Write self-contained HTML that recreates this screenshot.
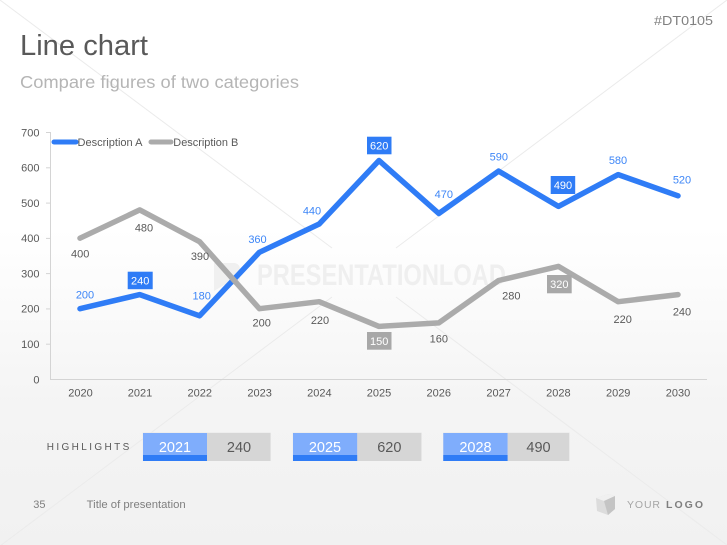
<!DOCTYPE html>
<html><head><meta charset="utf-8"><style>
html,body{margin:0;padding:0;width:727px;height:545px;overflow:hidden;background:#fff}
svg{display:block}
text{font-family:"Liberation Sans",sans-serif}
</style></head><body>
<svg width="727" height="545" viewBox="0 0 727 545" xmlns="http://www.w3.org/2000/svg">
<defs>
<linearGradient id="bg" x1="0" y1="0" x2="0" y2="1">
<stop offset="0" stop-color="#ffffff"/>
<stop offset="0.42" stop-color="#ffffff"/>
<stop offset="0.75" stop-color="#f4f4f4"/>
<stop offset="1" stop-color="#f1f1f1"/>
</linearGradient>
</defs>
<rect width="727" height="545" fill="url(#bg)"/>
<!-- watermark X lines -->
<g stroke="#ebebeb" stroke-width="1">
<line x1="0" y1="0" x2="332" y2="248"/>
<line x1="727" y1="0" x2="396" y2="248"/>
<line x1="332" y1="297" x2="0" y2="546"/>
<line x1="396" y1="297" x2="727" y2="545"/>
</g>
<!-- watermark logo -->
<path d="M214,263 h20 a6,6 0 0 1 6,6 v10 a6,6 0 0 1 -6,6 h-10 l-10,6 z" fill="#f0f0f0"/>
<text x="257" y="285" font-size="30" font-weight="bold" fill="#efefef" textLength="249" lengthAdjust="spacingAndGlyphs">PRESENTATIONLOAD</text>

<!-- header -->
<text x="20" y="55" font-size="29" fill="#595959" textLength="128" lengthAdjust="spacingAndGlyphs">Line chart</text>
<text x="20" y="88" font-size="17.5" fill="#b5b5b5" textLength="279" lengthAdjust="spacingAndGlyphs">Compare figures of two categories</text>
<text x="654" y="25" font-size="13" fill="#808080" textLength="59" lengthAdjust="spacingAndGlyphs">#DT0105</text>

<!-- axes -->
<g stroke="#d4d4d4" stroke-width="1">
<line x1="50.5" y1="132" x2="50.5" y2="379.5"/>
<line x1="50" y1="379.5" x2="707" y2="379.5"/>
<line x1="46" y1="132.5" x2="50" y2="132.5"/>
<line x1="46" y1="167.8" x2="50" y2="167.8"/>
<line x1="46" y1="203.1" x2="50" y2="203.1"/>
<line x1="46" y1="238.4" x2="50" y2="238.4"/>
<line x1="46" y1="273.6" x2="50" y2="273.6"/>
<line x1="46" y1="308.9" x2="50" y2="308.9"/>
<line x1="46" y1="344.2" x2="50" y2="344.2"/>
</g>
<g font-size="11" fill="#595959" text-anchor="end">
<text x="39.5" y="136.3">700</text>
<text x="39.5" y="171.6">600</text>
<text x="39.5" y="206.9">500</text>
<text x="39.5" y="242.2">400</text>
<text x="39.5" y="277.4">300</text>
<text x="39.5" y="312.7">200</text>
<text x="39.5" y="348">100</text>
<text x="39.5" y="383.3">0</text>
</g>
<g font-size="11" fill="#595959" text-anchor="middle">
<text x="80.5" y="396.7">2020</text>
<text x="140" y="396.7">2021</text>
<text x="199.8" y="396.7">2022</text>
<text x="259.6" y="396.7">2023</text>
<text x="319.4" y="396.7">2024</text>
<text x="379" y="396.7">2025</text>
<text x="438.8" y="396.7">2026</text>
<text x="498.6" y="396.7">2027</text>
<text x="558.4" y="396.7">2028</text>
<text x="618.2" y="396.7">2029</text>
<text x="678" y="396.7">2030</text>
</g>

<!-- legend -->
<line x1="54" y1="142" x2="76" y2="142" stroke="#2f7cf6" stroke-width="5" stroke-linecap="round"/>
<text x="77.5" y="146" font-size="11" fill="#595959" textLength="65" lengthAdjust="spacingAndGlyphs">Description A</text>
<line x1="151" y1="142" x2="171" y2="142" stroke="#ababab" stroke-width="5" stroke-linecap="round"/>
<text x="173.3" y="146" font-size="11" fill="#595959" textLength="65" lengthAdjust="spacingAndGlyphs">Description B</text>

<!-- series -->
<polyline fill="none" stroke="#2f7cf6" stroke-width="5.5" stroke-linejoin="round" stroke-linecap="round"
points="80,308.7 139.8,294.6 199.6,315.8 259.4,252.3 319.2,224 379,160.5 438.8,213.5 498.6,171.1 558.4,206.4 618.2,174.6 678,195.8"/>
<polyline fill="none" stroke="#ababab" stroke-width="5.5" stroke-linejoin="round" stroke-linecap="round"
points="80,238.2 139.8,209.9 199.6,241.7 259.4,308.7 319.2,301.7 379,326.4 438.8,322.9 498.6,280.5 558.4,266.4 618.2,301.7 678,294.6"/>

<!-- A labels -->
<g font-size="11" fill="#3d86f7" text-anchor="middle">
<text x="85" y="298.7">200</text>
<text x="201.7" y="299.7">180</text>
<text x="257.5" y="243">360</text>
<text x="312" y="214.7">440</text>
<text x="443.8" y="198">470</text>
<text x="498.8" y="160.7">590</text>
<text x="618" y="164">580</text>
<text x="682" y="183.3">520</text>
</g>
<rect x="127.7" y="271.7" width="25" height="17.5" fill="#2f7cf6"/>
<rect x="367" y="136.7" width="24.5" height="17.6" fill="#2f7cf6"/>
<rect x="550.7" y="176" width="24.5" height="18" fill="#2f7cf6"/>
<g font-size="11" fill="#ffffff" text-anchor="middle">
<text x="140.2" y="284.5">240</text>
<text x="379.2" y="149.5">620</text>
<text x="563" y="189">490</text>
</g>
<!-- B labels -->
<g font-size="11" fill="#595959" text-anchor="middle">
<text x="80.2" y="257.3">400</text>
<text x="144" y="231.3">480</text>
<text x="200" y="260">390</text>
<text x="261.7" y="326.7">200</text>
<text x="320" y="324">220</text>
<text x="438.8" y="342.3">160</text>
<text x="511.3" y="299.7">280</text>
<text x="622.7" y="323">220</text>
<text x="682" y="315.7">240</text>
</g>
<rect x="367" y="332" width="24.5" height="17.7" fill="#a8a8a8"/>
<rect x="547" y="275" width="24.7" height="18.3" fill="#a8a8a8"/>
<g font-size="11" fill="#ffffff" text-anchor="middle">
<text x="379.2" y="345">150</text>
<text x="559.3" y="288">320</text>
</g>

<!-- highlights -->
<text x="46.7" y="450" font-size="10" fill="#595959" textLength="82.6" lengthAdjust="spacing">HIGHLIGHTS</text>
<g>
<rect x="142.7" y="432.5" width="128" height="28.5" fill="#e8e8e8"/>
<rect x="143" y="433" width="64" height="28" fill="#7fadfc"/>
<rect x="143" y="455" width="64" height="6" fill="#2f7cf6"/>
<rect x="207" y="433" width="63.5" height="28" fill="#d6d6d6"/>
<rect x="292.7" y="432.5" width="129" height="28.5" fill="#e8e8e8"/>
<rect x="293" y="433" width="64.3" height="28" fill="#7fadfc"/>
<rect x="293" y="455" width="64.3" height="6" fill="#2f7cf6"/>
<rect x="357.3" y="433" width="64" height="28" fill="#d6d6d6"/>
<rect x="443" y="432.5" width="126.5" height="28.5" fill="#e8e8e8"/>
<rect x="443.3" y="433" width="64.4" height="28" fill="#7fadfc"/>
<rect x="443.3" y="455" width="64.4" height="6" fill="#2f7cf6"/>
<rect x="507.7" y="433" width="61.5" height="28" fill="#d6d6d6"/>
</g>
<g font-size="14.5" text-anchor="middle">
<text x="175" y="452" fill="#ffffff">2021</text>
<text x="239" y="452" fill="#595959">240</text>
<text x="325" y="452" fill="#ffffff">2025</text>
<text x="389.3" y="452" fill="#595959">620</text>
<text x="475.5" y="452" fill="#ffffff">2028</text>
<text x="538.5" y="452" fill="#595959">490</text>
</g>

<!-- footer -->
<text x="33.3" y="508" font-size="11" fill="#7f7f7f">35</text>
<text x="86.7" y="508" font-size="11" fill="#7f7f7f" textLength="99" lengthAdjust="spacingAndGlyphs">Title of presentation</text>
<g>
<path d="M596,498 L608,494 L615,496 L615,509 L608,515 L597,511 Z" fill="#dcdcdc"/>
<path d="M596,498 L608,494 L615,496 L604,501 Z" fill="#f0f0f0"/>
<path d="M604,501 L615,496 L615,509 L608,515 Z" fill="#c4c4c4"/>
</g>
<text x="627" y="508" font-size="10.5" fill="#a6a6a6" textLength="33" lengthAdjust="spacing">YOUR</text>
<text x="666" y="508" font-size="10.5" fill="#7f7f7f" font-weight="bold" textLength="37" lengthAdjust="spacing">LOGO</text>
</svg>
</body></html>
